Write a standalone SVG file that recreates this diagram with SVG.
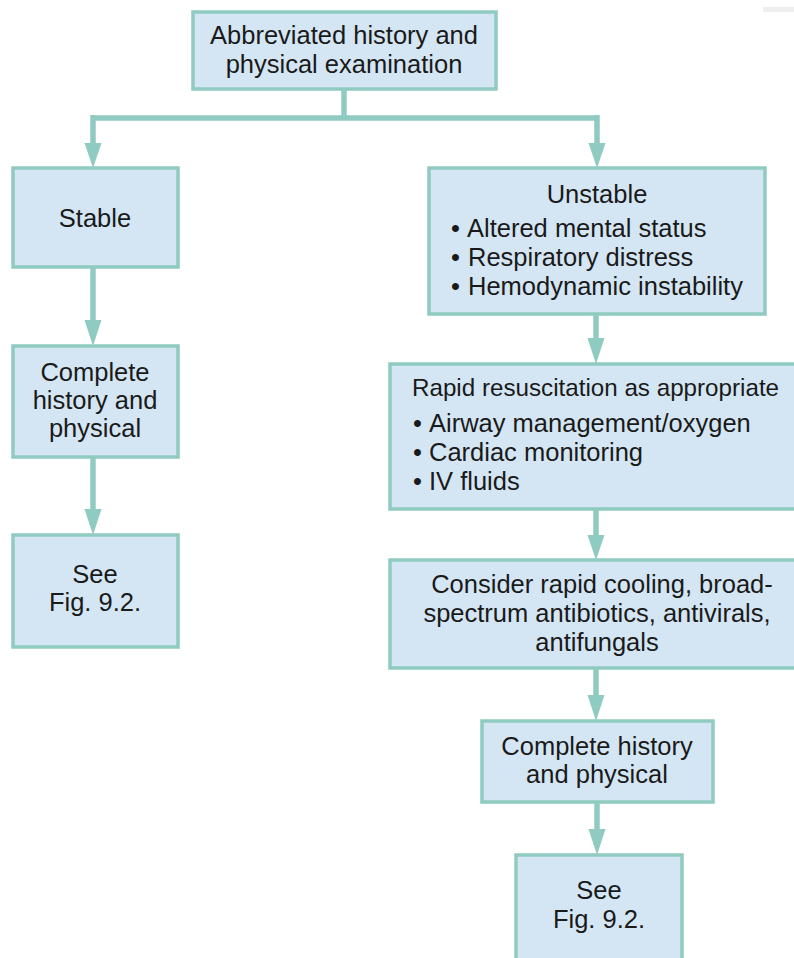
<svg xmlns="http://www.w3.org/2000/svg" width="794" height="958" viewBox="0 0 794 958">
<style>
.box{fill:#d4e6f4;stroke:#8fcbc0;stroke-width:3.5}
.t{font-family:"Liberation Sans",Arial,sans-serif;font-size:25.5px;fill:#1a1a1a}
.c{text-anchor:middle}
.ln{stroke:#8fcbc0;stroke-width:5.5;fill:none}
.ah{fill:#8fcbc0}
</style>
<rect x="763" y="7" width="31" height="5" fill="#eeeeee"/>
<g id="connectors">
<polyline class="ln" points="344,89 344,118"/>
<polyline class="ln" points="93,118 597,118"/>
<line class="ln" x1="93" y1="115" x2="93" y2="145"/>
<polygon class="ah" points="84.5,143 101.5,143 93,168"/>
<line class="ln" x1="597" y1="115" x2="597" y2="145"/>
<polygon class="ah" points="588.5,143 605.5,143 597,168"/>
<line class="ln" x1="93" y1="267" x2="93" y2="322"/>
<polygon class="ah" points="84.5,320 101.5,320 93,346"/>
<line class="ln" x1="93" y1="457" x2="93" y2="511"/>
<polygon class="ah" points="84.5,509 101.5,509 93,535"/>
<line class="ln" x1="596" y1="314" x2="596" y2="340"/>
<polygon class="ah" points="587.5,338 604.5,338 596,364"/>
<line class="ln" x1="596" y1="509" x2="596" y2="537"/>
<polygon class="ah" points="587.5,535 604.5,535 596,560"/>
<line class="ln" x1="596" y1="668" x2="596" y2="697"/>
<polygon class="ah" points="587.5,695 604.5,695 596,721"/>
<line class="ln" x1="597" y1="802" x2="597" y2="831"/>
<polygon class="ah" points="588.5,829 605.5,829 597,855"/>
</g>
<g id="top">
<rect class="box" x="193" y="12" width="303" height="77"/>
<text class="t c" x="344" y="44">Abbreviated history and</text>
<text class="t c" x="344" y="73">physical examination</text>
</g>
<g id="stable">
<rect class="box" x="13" y="168" width="165" height="99"/>
<text class="t c" x="95" y="227">Stable</text>
</g>
<g id="complete-left">
<rect class="box" x="13" y="346" width="165" height="111"/>
<text class="t c" x="95" y="381">Complete</text>
<text class="t c" x="95" y="409">history and</text>
<text class="t c" x="95" y="437">physical</text>
</g>
<g id="see-left">
<rect class="box" x="13" y="535" width="165" height="112"/>
<text class="t c" x="95" y="583">See</text>
<text class="t c" x="95" y="611">Fig. 9.2.</text>
</g>
<g id="unstable">
<rect class="box" x="429" y="168" width="336" height="146"/>
<text class="t c" x="597" y="203">Unstable</text>
<text class="t" x="451" y="237">•<tspan x="467">Altered mental status</tspan></text>
<text class="t" x="451" y="266">•<tspan x="468">Respiratory distress</tspan></text>
<text class="t" x="451" y="295">•<tspan x="468">Hemodynamic instability</tspan></text>
</g>
<g id="rapid">
<rect class="box" x="390" y="364" width="406" height="145"/>
<text class="t" x="412" y="396" style="font-size:24.2px">Rapid resuscitation as appropriate</text>
<text class="t" x="413" y="432">•<tspan x="429">Airway management/oxygen</tspan></text>
<text class="t" x="413" y="461">•<tspan x="429">Cardiac monitoring</tspan></text>
<text class="t" x="413" y="490">•<tspan x="429">IV fluids</tspan></text>
</g>
<g id="consider">
<rect class="box" x="390" y="560" width="406" height="108"/>
<text class="t c" x="602" y="593">Consider rapid cooling, broad-</text>
<text class="t c" x="597" y="622">spectrum antibiotics, antivirals,</text>
<text class="t c" x="597" y="651">antifungals</text>
</g>
<g id="complete-right">
<rect class="box" x="482" y="721" width="231" height="81"/>
<text class="t c" x="597" y="755">Complete history</text>
<text class="t c" x="597" y="783">and physical</text>
</g>
<g id="see-right">
<rect class="box" x="516" y="855" width="166" height="110"/>
<text class="t c" x="599" y="899">See</text>
<text class="t c" x="599" y="928">Fig. 9.2.</text>
</g>
</svg>
